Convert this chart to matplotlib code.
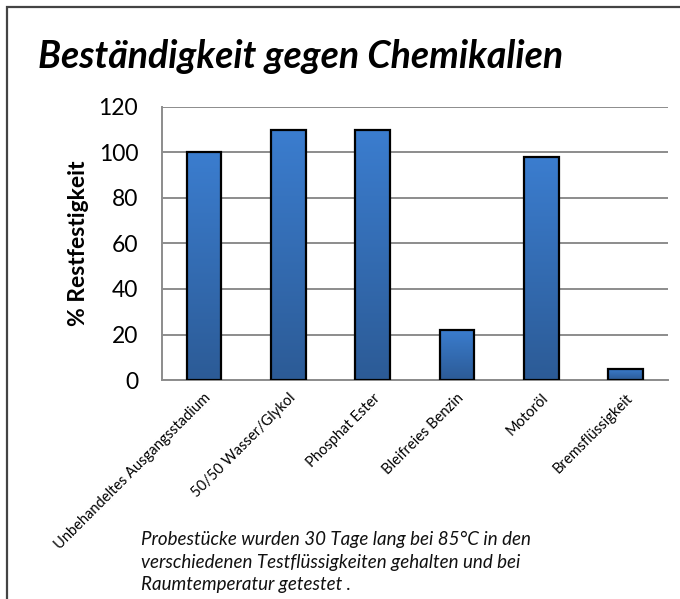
import matplotlib
matplotlib.use("Agg")
import matplotlib.pyplot as plt
import matplotlib.patches as mpatches
import numpy as np
from matplotlib.colors import LinearSegmentedColormap

plt.rcParams['font.family'] = ['Lato', 'DejaVu Sans']

categories = ['Unbehandeltes Ausgangsstadium', '50/50 Wasser/Glykol', 'Phosphat Ester',
              'Bleifreies Benzin', 'Motoröl', 'Bremsflüssigkeit']
values = [100, 110, 110, 22, 98, 5]
y_ticks = [0, 20, 40, 60, 80, 100, 120]

TITLE = 'Beständigkeit gegen Chemikalien'
Y_LABEL = '% Restfestigkeit'
NOTE = ('Probestücke wurden 30 Tage lang bei 85°C in den\n'
        'verschiedenen Testflüssigkeiten gehalten und bei\n'
        'Raumtemperatur getestet .')

GRID_COL = '#8c8c8c'
grad = LinearSegmentedColormap.from_list('bar', ['#2c5b96', '#3b7dcf'])

fig = plt.figure(figsize=(6.8, 5.99), dpi=100)
ax = fig.add_axes([0.238, 0.3656, 0.744, 0.4558])

x = np.arange(len(categories))
bars = ax.bar(x, values, width=0.41, color='none', edgecolor='black',
              linewidth=1.6, zorder=4)

# vertical gradient inside each bar
g = np.linspace(0, 1, 256).reshape(-1, 1)
for b in bars:
    x0, y0 = b.get_x(), b.get_y()
    w, h = b.get_width(), b.get_height()
    im = ax.imshow(g, cmap=grad, origin='lower', aspect='auto',
                   extent=(x0, x0 + w, y0, y0 + h), zorder=3)
    clip = mpatches.Rectangle((x0, y0), w, h, transform=ax.transData)
    im.set_clip_path(clip)

ax.set_xlim(-0.5, len(categories) - 0.5)
ax.set_ylim(0, 120)
ax.set_yticks(y_ticks)
ax.set_yticklabels([str(t) for t in y_ticks], fontsize=16.5)
ax.tick_params(axis='y', length=0, pad=17)
ax.tick_params(axis='x', length=0, pad=8)
ax.set_xticks(x)
ax.set_xticklabels(categories, rotation=45, ha='right', rotation_mode='anchor',
                   fontsize=10.5)

ax.yaxis.grid(True, color=GRID_COL, linewidth=1.4, zorder=1)
ax.set_axisbelow(True)
for s in ['top', 'right']:
    ax.spines[s].set_visible(False)
for s in ['left', 'bottom']:
    ax.spines[s].set_color(GRID_COL)
    ax.spines[s].set_linewidth(1.4)

ax.set_ylabel(Y_LABEL, fontsize=16.5, fontweight='bold', labelpad=7)

fig.text(38 / 680, 1 - 57 / 599, TITLE, fontsize=27, fontweight='bold',
         style='italic', ha='left', va='center')
fig.text(141 / 680, 1 - 531 / 599, NOTE, fontsize=13.5, style='italic',
         ha='left', va='top', linespacing=1.4, color='#111111')

# outer frame (right/bottom edges fall outside the image)
frame = mpatches.Rectangle((7 / 680, -0.1), 1.2, 1 - 7 / 599 + 0.1,
                           transform=fig.transFigure, fill=False,
                           edgecolor='#444444', linewidth=1.6)
fig.patches.append(frame)

fig.savefig('out.png', dpi=100)
